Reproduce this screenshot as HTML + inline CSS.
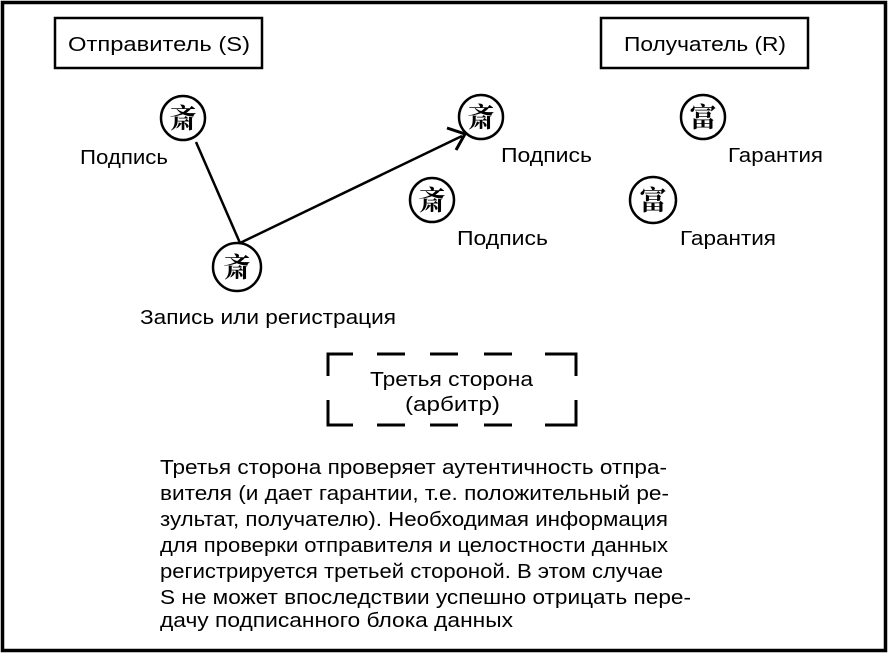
<!DOCTYPE html>
<html><head><meta charset="utf-8"><style>
html,body{margin:0;padding:0;background:#fff}
svg{display:block}
text{font-family:"Liberation Sans",Arial,sans-serif;fill:#000}
.s{font-family:"Noto Serif CJK SC","Noto Sans CJK SC",serif;font-size:27px;font-weight:bold}
</style></head><body>
<svg width="889" height="654" viewBox="0 0 889 654" xmlns="http://www.w3.org/2000/svg">
<rect x="2.5" y="2.5" width="883" height="648" fill="none" stroke="#000" stroke-width="3.5"/>
<rect x="55" y="18" width="207" height="50" fill="none" stroke="#000" stroke-width="2.5"/>
<text x="68" y="51" font-size="20" textLength="182" lengthAdjust="spacingAndGlyphs">Отправитель (S)</text>
<rect x="601" y="18" width="207" height="50" fill="none" stroke="#000" stroke-width="2.5"/>
<text x="624" y="51" font-size="20" textLength="162" lengthAdjust="spacingAndGlyphs">Получатель (R)</text>
<g fill="none" stroke="#000" stroke-width="2.5">
<circle cx="183" cy="118" r="22"/>
<circle cx="237" cy="267" r="24"/>
<circle cx="481" cy="117" r="22"/>
<circle cx="432" cy="200" r="22"/>
<circle cx="703" cy="117" r="22"/>
<circle cx="653" cy="200" r="23"/>
<line x1="196" y1="142" x2="240" y2="243"/>
<line x1="240" y1="243" x2="462" y2="136"/>
<polyline points="447,128 465,134 456,150" stroke-width="3"/>
</g>
<text class="s" x="183" y="128" text-anchor="middle">斎</text>
<text class="s" x="237" y="277" text-anchor="middle">斎</text>
<text class="s" x="481" y="127" text-anchor="middle">斎</text>
<text class="s" x="432" y="210" text-anchor="middle">斎</text>
<text class="s" x="703" y="127" text-anchor="middle">富</text>
<text class="s" x="653" y="210" text-anchor="middle">富</text>
<g font-size="20" lengthAdjust="spacingAndGlyphs">
<text x="80" y="164" textLength="88" lengthAdjust="spacingAndGlyphs">Подпись</text>
<text x="501" y="162" textLength="91" lengthAdjust="spacingAndGlyphs">Подпись</text>
<text x="457" y="245" textLength="91" lengthAdjust="spacingAndGlyphs">Подпись</text>
<text x="728" y="162" textLength="95" lengthAdjust="spacingAndGlyphs">Гарантия</text>
<text x="680" y="245" textLength="96" lengthAdjust="spacingAndGlyphs">Гарантия</text>
<text x="140" y="324" textLength="256" lengthAdjust="spacingAndGlyphs">Запись или регистрация</text>
<text x="370" y="386" textLength="163" lengthAdjust="spacingAndGlyphs">Третья сторона</text>
<text x="405" y="411" textLength="95" lengthAdjust="spacingAndGlyphs">(арбитр)</text>
</g>
<g fill="none" stroke="#000" stroke-width="3">
<polyline points="328,376 328,354 353,354"/>
<line x1="377" y1="354" x2="405" y2="354"/>
<line x1="430" y1="354" x2="458" y2="354"/>
<line x1="484" y1="354" x2="512" y2="354"/>
<polyline points="545,354 576,354 576,376"/>
<polyline points="328,400 328,425 353,425"/>
<line x1="377" y1="425" x2="405" y2="425"/>
<line x1="430" y1="425" x2="458" y2="425"/>
<line x1="484" y1="425" x2="512" y2="425"/>
<polyline points="545,425 576,425 576,400"/>
</g>
<g font-size="20">
<text x="160" y="474" textLength="507" lengthAdjust="spacingAndGlyphs">Третья сторона проверяет аутентичность отпра-</text>
<text x="160" y="500" textLength="509" lengthAdjust="spacingAndGlyphs">вителя (и дает гарантии, т.е. положительный ре-</text>
<text x="160" y="526" textLength="508" lengthAdjust="spacingAndGlyphs">зультат, получателю). Необходимая информация</text>
<text x="160" y="552" textLength="508" lengthAdjust="spacingAndGlyphs">для проверки отправителя и целостности данных</text>
<text x="160" y="578" textLength="503" lengthAdjust="spacingAndGlyphs">регистрируется третьей стороной. В этом случае</text>
<text x="160" y="604" textLength="531" lengthAdjust="spacingAndGlyphs">S не может впоследствии успешно отрицать пере-</text>
<text x="160" y="627" textLength="353" lengthAdjust="spacingAndGlyphs">дачу подписанного блока данных</text>
</g>
</svg>
</body></html>
